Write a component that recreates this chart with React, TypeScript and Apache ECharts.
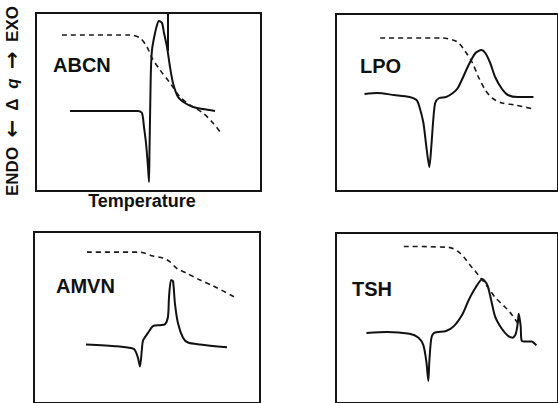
import React, { useEffect, useRef } from "react";
import * as echarts from "echarts";

// Panel labels
const panelNames = ["ABCN", "LPO", "AMVN", "TSH"];
const xAxisTitle = "Temperature";

// [temperature, heat flow] in arbitrary panel units
const abcnDsc: number[][] = [
  [34, 80], [102, 80], [106, 78], [108, 64], [110, 48], [112, 24], [113, 9],
  [113.5, 41], [114, 71], [114.5, 101], [115, 124], [116, 141], [118, 153],
  [121, 166], [123, 170], [126, 168], [128, 158], [131, 144], [134, 124],
  [137, 108], [142, 94], [149, 88], [157, 84], [167, 82], [179, 80],
];
const abcnOffscale: number[][] = [[132, 178], [132, 140]];
const abcnMass: number[][] = [
  [26, 156], [94, 156], [104, 153], [111, 144], [116, 133], [124, 121],
  [134, 108], [144, 94], [154, 86], [167, 78], [177, 68], [185, 58],
];

const lpoDsc: number[][] = [
  [29, 97], [42, 98], [59, 96], [75, 94], [82, 91], [85, 84], [89, 68],
  [92, 44], [95, 24], [97, 44], [99, 71], [101, 88], [105, 93], [112, 94],
  [119, 98], [124, 103], [129, 113], [135, 126], [142, 138], [148, 141],
  [152, 138], [157, 128], [162, 114], [169, 102], [175, 96], [185, 94], [201, 94],
];
const lpoMass: number[][] = [
  [45, 153], [109, 153], [119, 151], [125, 148], [132, 139], [139, 128],
  [145, 114], [152, 101], [159, 93], [169, 88], [182, 86], [201, 82],
];

const amvnDsc: number[][] = [
  [52, 61], [83, 59], [98, 57], [101, 55], [104, 47], [106, 38], [108, 57],
  [109, 65], [114, 73], [119, 80], [126, 81], [131, 82], [134, 90], [135, 110],
  [137, 128], [139, 127], [141, 103], [144, 83], [149, 68], [154, 63],
  [166, 61], [193, 58],
];
const amvnMass: number[][] = [
  [53, 157], [106, 157], [119, 153], [129, 151], [136, 147], [143, 140],
  [153, 135], [166, 128], [179, 122], [203, 109],
];

const tshDsc: number[][] = [
  [31, 73], [52, 74], [75, 72], [84, 68], [89, 60], [92, 43], [94, 23],
  [95, 43], [97, 67], [100, 73], [112, 75], [120, 80], [129, 93], [135, 107],
  [142, 120], [149, 129], [154, 123], [158, 107], [162, 90], [169, 77],
  [175, 70], [180, 68], [183, 72], [185, 83], [186, 93], [188, 80], [189, 65],
  [194, 64], [199, 64], [204, 60],
];
const tshMass: number[][] = [
  [69, 163], [115, 162], [124, 158], [130, 152], [137, 143], [142, 137],
  [149, 128], [155, 120], [162, 110], [172, 100], [179, 92], [185, 83],
];

export default function App() {
  const ref = useRef<HTMLDivElement>(null);
  useEffect(() => {
    if (!ref.current) return;
    const chart = echarts.init(ref.current, undefined, { renderer: "svg" });
    const grids = [
      { left: 36, top: 13, width: 225, height: 178 },
      { left: 336, top: 14, width: 226, height: 177 },
      { left: 34, top: 232, width: 226, height: 178 },
      { left: 336, top: 233, width: 226, height: 177 },
    ].map((g) => ({
      ...g,
      show: true,
      borderColor: "#151515",
      borderWidth: 2,
      backgroundColor: "transparent",
      containLabel: false,
    }));
    const axisCommon = {
      type: "value" as const,
      show: false,
      splitLine: { show: false },
    };
    const xAxes = grids.map((g, i) => ({
      ...axisCommon,
      gridIndex: i,
      min: 0,
      max: g.width,
    }));
    const yAxes = grids.map((g, i) => ({
      ...axisCommon,
      gridIndex: i,
      min: 0,
      max: g.height,
    }));
    const solid = (name: string, data: number[][], i: number) => ({
      name,
      type: "line",
      xAxisIndex: i,
      yAxisIndex: i,
      data,
      showSymbol: false,
      smooth: 0.25,
      lineStyle: { color: "#111", width: 2 },
    });
    const dashed = (name: string, data: number[][], i: number) => ({
      name,
      type: "line",
      xAxisIndex: i,
      yAxisIndex: i,
      data,
      showSymbol: false,
      smooth: 0.3,
      lineStyle: { color: "#1a1a1a", width: 1.6, type: [5, 4] },
    });
    const series = [
      solid("ABCN DSC", abcnDsc, 0),
      { ...solid("ABCN off-scale", abcnOffscale, 0), smooth: false },
      dashed("ABCN mass", abcnMass, 0),
      solid("LPO DSC", lpoDsc, 1),
      dashed("LPO mass", lpoMass, 1),
      solid("AMVN DSC", amvnDsc, 2),
      dashed("AMVN mass", amvnMass, 2),
      solid("TSH DSC", tshDsc, 3),
      dashed("TSH mass", tshMass, 3),
    ];
    const labelPos = [
      [53, 65],
      [360, 66],
      [56, 286],
      [352, 289],
    ];
    const font = "Liberation Sans, Arial, sans-serif";
    const graphic: any[] = panelNames.map((n, i) => ({
      type: "text",
      x: labelPos[i][0],
      y: labelPos[i][1],
      style: {
        text: n,
        font: `bold 20px ${font}`,
        fill: "#111",
        textAlign: "left",
        textVerticalAlign: "middle",
      },
    }));
    graphic.push({
      type: "text",
      x: 142,
      y: 201,
      style: {
        text: xAxisTitle,
        font: `bold 18px ${font}`,
        fill: "#111",
        textAlign: "center",
        textVerticalAlign: "middle",
      },
    });
    graphic.push({
      type: "text",
      x: 12,
      y: 101,
      rotation: Math.PI / 2,
      style: {
        text: "{a|ENDO  }{r|←}{a|  Δ  }{q|q}{a|  }{r|→}{a|  EXO}",
        textAlign: "center",
        textVerticalAlign: "middle",
        rich: {
          a: { font: `bold 17px ${font}`, fill: "#111" },
          q: { font: `italic bold 17px ${font}`, fill: "#111" },
          r: { font: `bold 21px DejaVu Sans`, fill: "#111" },
        },
      },
    });
    chart.setOption({
      animation: false,
      backgroundColor: "#fff",
      grid: grids,
      xAxis: xAxes,
      yAxis: yAxes,
      series,
      graphic,
    });
    return () => chart.dispose();
  }, []);
  return (
    <div
      ref={ref}
      style={{ position: "fixed", left: 0, top: 0, width: 558, height: 403 }}
    />
  );
}
